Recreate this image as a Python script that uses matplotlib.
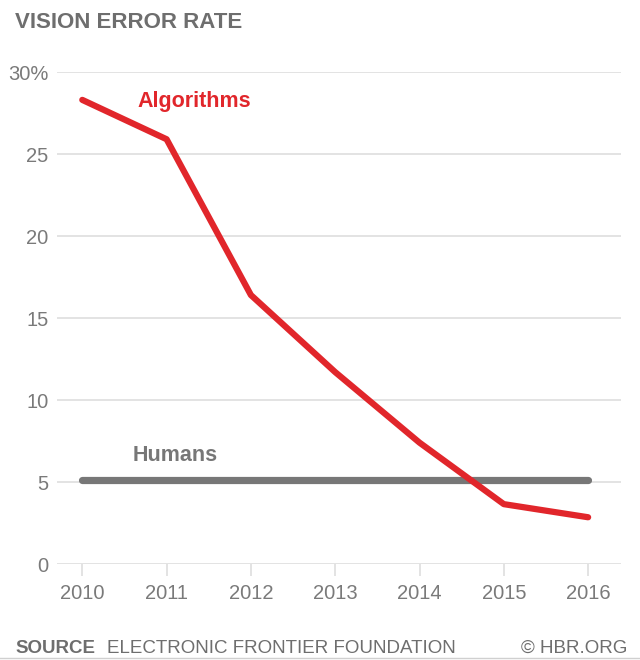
import matplotlib
matplotlib.use("Agg")
import matplotlib.pyplot as plt
from matplotlib.lines import Line2D

years = [2010, 2011, 2012, 2013, 2014, 2015, 2016]
algorithms = [28.3, 25.9, 16.4, 11.7, 7.4, 3.65, 2.85]
humans = [5.1, 5.1, 5.1, 5.1, 5.1, 5.1, 5.1]
yticks = [0, 5, 10, 15, 20, 25, 30]
ytick_labels = ["0", "5", "10", "15", "20", "25", "30%"]
xtick_labels = ["2010", "2011", "2012", "2013", "2014", "2015", "2016"]

FONT = ["Liberation Sans Narrow", "Liberation Sans", "DejaVu Sans"]
plt.rcParams["font.family"] = FONT

RED = "#e1262b"
GRAY = "#777777"
LABEL = "#7a7a7a"
GRID = "#dedede"

fig = plt.figure(figsize=(6.4, 6.6), dpi=100)
ax = fig.add_axes([57 / 640, 1 - 564 / 660, (621 - 57) / 640, (564 - 72) / 660])

ax.plot(years, humans, color=GRAY, lw=5.2, solid_capstyle="round", zorder=3, clip_on=False)
ax.plot(years, algorithms, color=RED, lw=4.5, solid_capstyle="round",
        solid_joinstyle="round", zorder=4, clip_on=False)

ax.set_xlim(2009.70, 2016.39)
ax.set_ylim(0, 30)
ax.set_yticks(yticks)
ax.set_yticklabels(ytick_labels)
ax.set_xticks(years)
ax.set_xticklabels(xtick_labels)

ax.grid(axis="y", color=GRID, lw=1.2, zorder=0)
ax.set_axisbelow(True)
for s in ax.spines.values():
    s.set_visible(False)

ax.tick_params(axis="y", length=0, pad=6, labelsize=14.5, labelcolor=LABEL)
ax.tick_params(axis="x", length=8.5, width=1.2, color=GRID, pad=6,
               labelsize=14.5, labelcolor=LABEL)

ax.text(2010.65, 28.2, "Algorithms", color=RED, fontsize=15.5, fontweight="bold",
        ha="left", va="center")
ax.text(2010.6, 6.6, "Humans", color=GRAY, fontsize=15.5, fontweight="bold",
        ha="left", va="center")

fig.text(15 / 640, 1 - 22 / 660, "VISION ERROR RATE", color="#6e6e6e", fontsize=16,
         fontweight="bold", ha="left", va="center")

# footer
FOOT = ["Liberation Sans", "DejaVu Sans"]
fig.text(15 / 640, 7 / 660, "SOURCE", color="#6e6e6e", fontsize=13.5, fontweight="bold",
         ha="left", va="baseline", family=FOOT)
fig.text(107 / 640, 7 / 660, "ELECTRONIC FRONTIER FOUNDATION", color="#6e6e6e",
         fontsize=13.5, ha="left", va="baseline", family=FOOT)
fig.text(627 / 640, 7 / 660, "© HBR.ORG", color="#6e6e6e", fontsize=13.5,
         ha="right", va="baseline", family=FOOT)
fig.lines.append(Line2D([0, 1], [2.5 / 660, 2.5 / 660], transform=fig.transFigure,
                        color="#d0d0d0", lw=1, zorder=11))

fig.savefig("out.png", dpi=100, facecolor="white")
